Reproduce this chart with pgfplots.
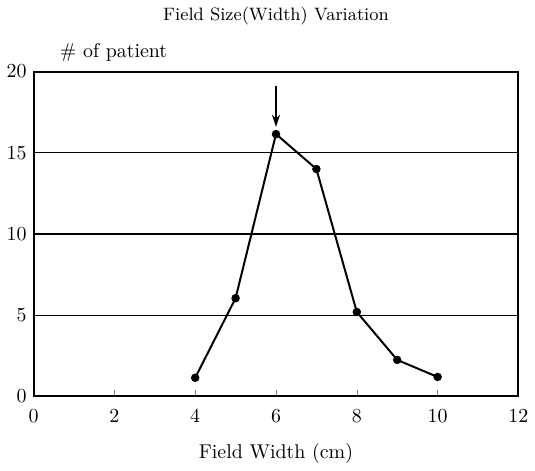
\documentclass[border=0pt]{standalone}
\usepackage{pgfplots}
\pgfplotsset{compat=1.18}
\usetikzlibrary{arrows.meta}
\begin{document}
\begin{tikzpicture}
\begin{axis}[
  scale only axis,
  width=242.5bp, height=162.5bp,
  xmin=0, xmax=12, ymin=0, ymax=20,
  xtick={0,2,...,12},
  ytick={0,5,10,15,20},
  xtick pos=bottom,
  ytick pos=left,
  tick align=inside,
  major tick length=3bp,
  ytick style={draw=none},
  xticklabel style={yshift=-3bp},
  ymajorgrids,
  grid style={black, line width=0.7pt},
  axis line style={line width=1pt},
  xlabel={Field Width (cm)},
  xlabel style={at={(axis description cs:0.5,0)}, anchor=north, yshift=-20bp},
  clip=false,
]
\addplot[black, line width=1pt, mark=*, mark size=1.6pt]
  coordinates {(4,1.15) (5,6.05) (6,16.15) (7,14.0) (8,5.2) (9,2.25) (10,1.2)};
\draw[line width=0.9pt, -{Stealth[length=6bp,width=4bp]}] (axis cs:6,19.1) -- (axis cs:6,16.6);
\node[anchor=center] at ([xshift=40bp,yshift=9.5bp]rel axis cs:0,1) {$\#$ of patient};
\node[anchor=center, font=\small] at ([yshift=28bp]rel axis cs:0.5,1) {Field Size(Width) Variation};
\end{axis}
\end{tikzpicture}
\end{document}
